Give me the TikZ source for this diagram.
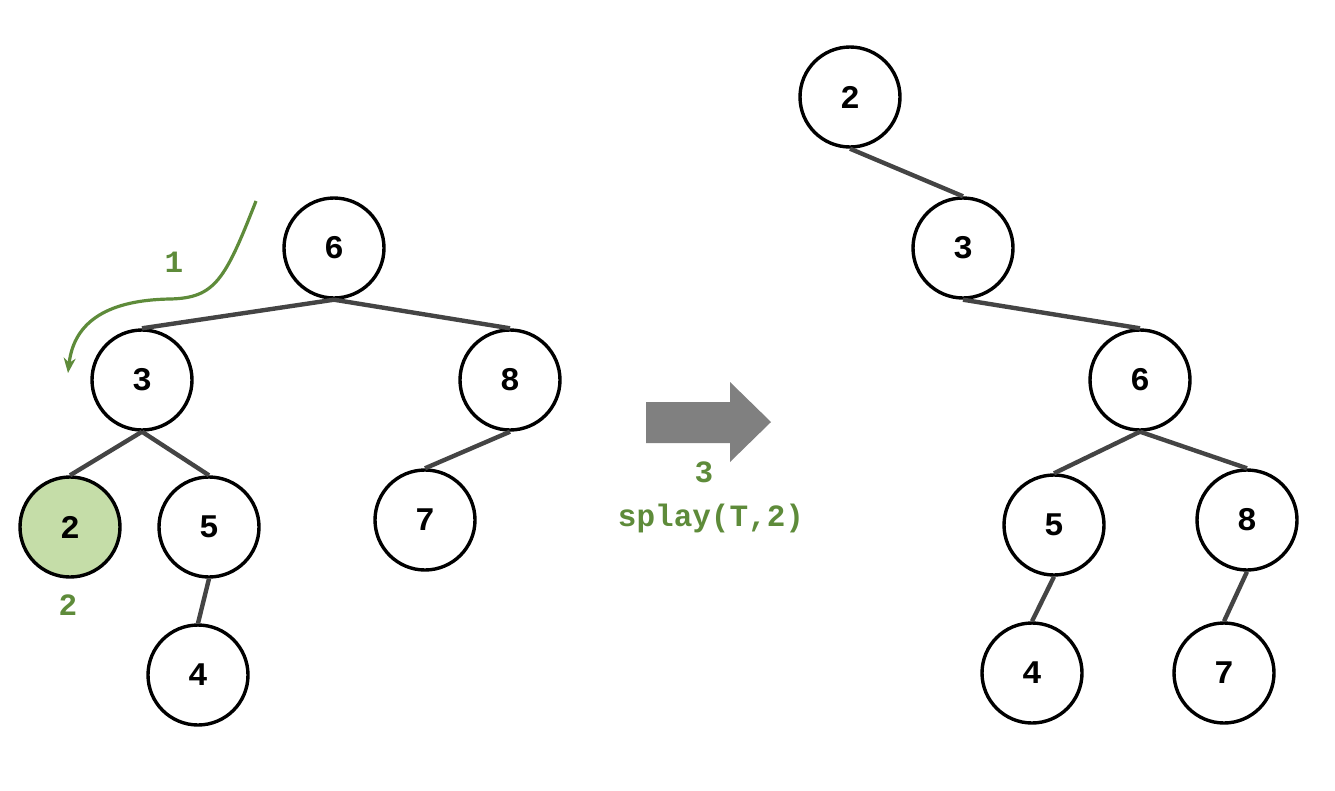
\documentclass[tikz,border=0pt]{standalone}
\usepackage{fontspec}
\setmonofont{Liberation Mono}
\usetikzlibrary{arrows.meta}
\definecolor{edgegray}{HTML}{444444}
\definecolor{lblgreen}{HTML}{5E8B3A}
\definecolor{nodegreen}{HTML}{C5DDA8}
\definecolor{arrgray}{HTML}{808080}
\tikzset{
  tn/.style={circle, draw=black, line width=3.4pt, minimum size=100pt, inner sep=0pt, fill=white,
    font=\ttfamily\bfseries\fontsize{33}{35}\selectfont},
  hl/.style={tn, fill=nodegreen},
  ed/.style={draw=edgegray, line width=4.4pt},
  lbl/.style={text=lblgreen, font=\ttfamily\bfseries\fontsize{31}{33}\selectfont, inner sep=0pt},
}
\begin{document}
\begin{tikzpicture}[x=1pt,y=-1pt]
\useasboundingbox (0,0) rectangle (1335,790);
% left tree
\node[tn] (L6) at (334,248) {6};
\node[tn] (L3) at (142,380) {3};
\node[tn] (L8) at (510,380) {8};
\node[hl] (L2) at (70,527) {2};
\node[tn] (L5) at (209,527) {5};
\node[tn] (L7) at (425,520) {7};
\node[tn] (L4) at (198,675) {4};
\draw[ed] (L6.south) -- (L3.north);
\draw[ed] (L6.south) -- (L8.north);
\draw[ed] (L3.south) -- (L2.north);
\draw[ed] (L3.south) -- (L5.north);
\draw[ed] (L8.south) -- (L7.north);
\draw[ed] (L5.south) -- (L4.north);
% right tree
\node[tn] (R2) at (850,97) {2};
\node[tn] (R3) at (963,248) {3};
\node[tn] (R6) at (1140,380) {6};
\node[tn] (R5) at (1054,525) {5};
\node[tn] (R8) at (1247,520) {8};
\node[tn] (R4) at (1032,673) {4};
\node[tn] (R7) at (1224,673) {7};
\draw[ed] (R2.south) -- (R3.north);
\draw[ed] (R3.south) -- (R6.north);
\draw[ed] (R6.south) -- (R5.north);
\draw[ed] (R6.south) -- (R8.north);
\draw[ed] (R5.south) -- (R4.north);
\draw[ed] (R8.south) -- (R7.north);
% green path
\coordinate (gs) at (256,201);
\coordinate (ge) at (68,373);
\draw[lblgreen, line width=3.2pt, -{Stealth[length=15pt,width=12pt]}]
  (gs) .. controls (225,280) and (215,298) .. (170,299)
       .. controls (110,300) and (74,320) .. (ge);
\node[lbl] (one) at (174,262) {1};
\node[lbl] (two) at (68,605) {2};
% big arrow
\fill[arrgray] (646,402) -- (730,402) -- (730,382) -- (771,422) -- (730,462) -- (730,443) -- (646,443) -- cycle;
\node[lbl] (three) at (704,472) {3};
\node[lbl] (splay) at (711,518) {splay(T,2)};
\end{tikzpicture}
\end{document}
